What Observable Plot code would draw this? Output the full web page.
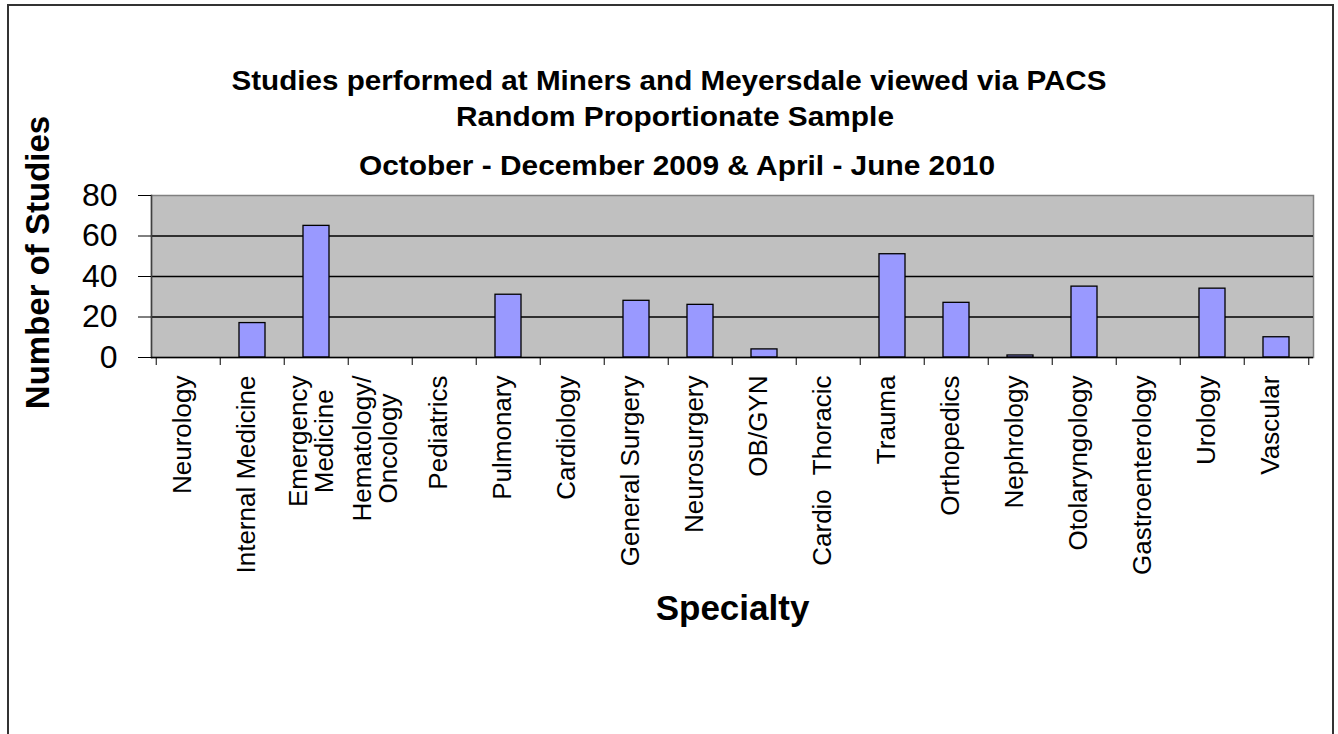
<!DOCTYPE html>
<html>
<head>
<meta charset="utf-8">
<script src="https://cdn.jsdelivr.net/npm/d3@7"></script>
<script src="https://cdn.jsdelivr.net/npm/@observablehq/plot@0.6"></script>
<style>
  html, body { margin: 0; padding: 0; background: #fff; }
  #wrap { position: relative; width: 1338px; height: 734px; overflow: hidden; font-family: "Liberation Sans", Arial, sans-serif; }
  #wrap > svg, #wrap > div { position: absolute; left: 0; top: 0; }
  #border { left: 7px !important; top: 4px !important; width: 1327px; height: 800px; border: 2px solid #333; box-sizing: border-box; }
</style>
</head>
<body>
<div id="wrap">
  <div id="border"></div>
  <svg id="titles" width="1338" height="200" style="position:absolute;left:0;top:0" font-family="Liberation Sans, Arial, sans-serif" font-weight="bold" text-anchor="middle">
    <text id="t1" x="669" y="90" font-size="28"></text>
    <text id="t2" x="675" y="126" font-size="28"></text>
    <text id="t3" x="677" y="175" font-size="28"></text>
  </svg>
</div>
<script>
// ---- data ----
const categories = [
  "Neurology", "Internal Medicine", "Emergency\nMedicine", "Hematology/\nOncology",
  "Pediatrics", "Pulmonary", "Cardiology", "General Surgery", "Neurosurgery",
  "OB/GYN", "Cardio  Thoracic", "Trauma", "Orthopedics", "Nephrology",
  "Otolaryngology", "Gastroenterology", "Urology", "Vascular"
];
const studies = [0, 17, 65, 0, 0, 31, 0, 28, 26, 4, 0, 51, 27, 1, 35, 0, 34, 10];
const yTicks = [0, 20, 40, 60, 80];
const titleLines = [
  "Studies performed at Miners and Meyersdale viewed via PACS",
  "Random Proportionate Sample",
  "October - December 2009 & April - June 2010"
];
const yTitle = "Number of Studies";
const xTitle = "Specialty";

const data = categories.map((c, i) => ({category: c, value: studies[i]}));

// title widths to match reference
const titleWidths = [875, 438, 636];
["t1", "t2", "t3"].forEach((id, i) => {
  const el = document.getElementById(id);
  el.textContent = titleLines[i];
  el.setAttribute("textLength", titleWidths[i]);
  el.setAttribute("lengthAdjust", "spacingAndGlyphs");
});

const W = 1338, H = 734, mL = 151, mR = 25, mT = 195, mB = 377;
const step = (W - mL - mR) / categories.length;
const labelFont = 26;
const fontFamily = "Liberation Sans, Arial, sans-serif";

// measure multi-line labels so their block is centred like the reference
const ctx = document.createElement("canvas").getContext("2d");
ctx.font = `${labelFont}px ${fontFamily}`;
const multi = categories.filter(c => c.includes("\n"));
const single = categories.filter(c => !c.includes("\n"));
const multiAxes = multi.map(c => {
  const w = d3.max(c.split("\n"), s => ctx.measureText(s).width);
  return Plot.axisX({
    ticks: [c], tickSize: 0, tickPadding: 18 + w / 2, tickRotate: -90,
    textAnchor: "middle", fontSize: labelFont, label: null, dx: -5
  });
});

const plot = Plot.plot({
  width: W, height: H,
  marginLeft: mL, marginRight: mR, marginTop: mT, marginBottom: mB,
  style: {fontFamily, background: "transparent", color: "#000"},
  x: {domain: categories, paddingInner: 0.6, paddingOuter: 0.3, axis: null, label: null},
  y: {domain: [0, 80], axis: null, label: null},
  marks: [
    Plot.frame({fill: "#c0c0c0", stroke: "#808080", strokeWidth: 1.5}),
    Plot.ruleY(yTicks.filter(d => d > 0 && d < 80), {stroke: "#000", strokeWidth: 1.3}),
    Plot.barY(data, {x: "category", y: "value", fill: "#9999ff", stroke: "#000", strokeWidth: 1.3}),
    Plot.frame({anchor: "left", stroke: "#404040", strokeWidth: 1.5}),
    Plot.ruleY([0], {stroke: "#000", strokeWidth: 1.5}),
    // y axis
    Plot.axisY({ticks: yTicks, tickSize: 13, tickPadding: 21, fontSize: 32, label: null, tickFormat: d3.format("d")}),
    // category boundary ticks
    Plot.axisX({tickSize: 8, tickFormat: () => "", dx: -step / 2, label: null}),
    Plot.axisX({ticks: [categories[categories.length - 1]], tickSize: 8, tickFormat: () => "", dx: step / 2, label: null}),
    // category labels
    Plot.axisX({ticks: single, tickSize: 0, tickPadding: 18, tickRotate: -90, fontSize: labelFont, label: null, dx: -6}),
    ...multiAxes,
    // axis titles
    Plot.text([yTitle], {frameAnchor: "left", textAnchor: "middle", rotate: -90, dx: -113, dy: -14, fontSize: 33, fontWeight: "bold"}),
    Plot.text([xTitle], {frameAnchor: "bottom", dy: 262, fontSize: 35, fontWeight: "bold"})
  ]
});
document.getElementById("wrap").insertBefore(plot, document.getElementById("titles"));
</script>
</body>
</html>
